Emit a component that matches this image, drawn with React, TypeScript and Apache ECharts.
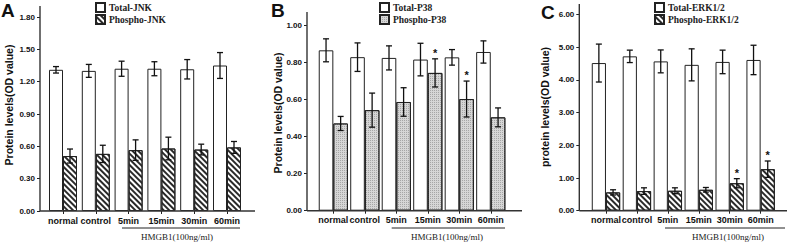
import React, { useEffect, useRef } from "react";
import * as echarts from "echarts";

const categories = ["normal", "control", "5min", "15min", "30min", "60min"];

const jnkTotal = [1.31, 1.30, 1.32, 1.32, 1.315, 1.35];
const jnkTotalErr = [0.03, 0.06, 0.07, 0.065, 0.09, 0.12];
const jnkPhospho = [0.51, 0.53, 0.565, 0.58, 0.57, 0.59];
const jnkPhosphoErr = [0.065, 0.08, 0.095, 0.105, 0.05, 0.055];

const p38Total = [0.866, 0.829, 0.825, 0.816, 0.828, 0.857];
const p38TotalErr = [0.062, 0.077, 0.065, 0.088, 0.042, 0.06];
const p38Phospho = [0.471, 0.543, 0.587, 0.744, 0.603, 0.504];
const p38PhosphoErr = [0.038, 0.092, 0.077, 0.076, 0.097, 0.051];
const p38Stars = [0, 0, 0, 1, 1, 0];

const erkTotal = [4.515, 4.72, 4.566, 4.46, 4.55, 4.61];
const erkTotalErr = [0.58, 0.19, 0.35, 0.49, 0.36, 0.45];
const erkPhospho = [0.56, 0.6, 0.61, 0.64, 0.84, 1.27];
const erkPhosphoErr = [0.08, 0.1, 0.09, 0.07, 0.14, 0.25];
const erkStars = [0, 0, 0, 0, 1, 1];

const noStars = [0, 0, 0, 0, 0, 0];

const panelLetters = ["A", "B", "C"];
const yNames = ["Protein levels(OD value)", "Protein levels(OD value)", "protein levels(OD value)"];
const legendTotal = ["Total-JNK", "Total-P38", "Total-ERK1/2"];
const legendPhospho = ["Phospho-JNK", "Phospho-P38", "Phospho-ERK1/2"];
const yMax = [1.8, 1.0, 6.0];
const yInterval = [0.3, 0.2, 1.0];
const groupLabel = "HMGB1(100ng/ml)";

const hatch = {
  symbol: "rect",
  symbolSize: 1,
  color: "#2a2a2a",
  dashArrayX: [1, 0],
  dashArrayY: [1.1, 1.3],
  rotation: Math.PI / 4,
};
const dots = {
  symbol: "rect",
  symbolSize: 1,
  color: "#a6a6a6",
  dashArrayX: [1, 1],
  dashArrayY: [1, 1],
  rotation: 0,
};

const layout = [
  { axisX: 40, left: 46.6, width: 196.8, top: 17, bottom: 211, axisTop: 6, axisRight: 255, barW: 14, legendLeft: 95, legendTop: 2, letterX: 1, letterY: 1, nameX: 8.5, nameY: 105, hmg: [122, 240], hmgC: 177, decal: hatch, pColor: "#ffffff" },
  { axisX: 307, left: 317.6, width: 188.9, top: 25.5, bottom: 210.7, axisTop: 12, axisRight: 522, barW: 14.6, legendLeft: 379, legendTop: 2, letterX: 271, letterY: 1, nameX: 278, nameY: 113, hmg: [391.7, 505], hmgC: 447, decal: dots, pColor: "#d6d6d6" },
  { axisX: 579.3, left: 590.5, width: 185.6, top: 14.5, bottom: 210.7, axisTop: 4, axisRight: 787, barW: 14.2, legendLeft: 654, legendTop: 2, letterX: 541, letterY: 3, nameX: 545, nameY: 107, hmg: [665, 785], hmgC: 728, decal: hatch, pColor: "#ffffff" },
];

const seriesData = [
  { total: jnkTotal, totalErr: jnkTotalErr, phos: jnkPhospho, phosErr: jnkPhosphoErr, stars: noStars },
  { total: p38Total, totalErr: p38TotalErr, phos: p38Phospho, phosErr: p38PhosphoErr, stars: p38Stars },
  { total: erkTotal, totalErr: erkTotalErr, phos: erkPhospho, phosErr: erkPhosphoErr, stars: erkStars },
];

function errSeries(k: number, values: number[], errs: number[], stars: number[], offset: number) {
  return {
    type: "custom",
    xAxisIndex: k,
    yAxisIndex: k,
    z: 10,
    clip: false,
    silent: true,
    encode: { x: 0, y: 1 },
    data: values.map((v, i) => [i, v, errs[i], stars[i]]),
    renderItem: (params: any, api: any) => {
      const i = api.value(0);
      const v = api.value(1);
      const e = api.value(2);
      const s = api.value(3);
      const c = api.coord([i, v]);
      const x = c[0] + offset;
      const yt = api.coord([i, v + e])[1];
      const yb = api.coord([i, v - e])[1];
      const st = { stroke: "#111", lineWidth: 1.3 };
      const children: any[] = [
        { type: "line", shape: { x1: x, y1: yt, x2: x, y2: yb }, style: st },
        { type: "line", shape: { x1: x - 3, y1: yt, x2: x + 3, y2: yt }, style: st },
        { type: "line", shape: { x1: x - 3, y1: yb, x2: x + 3, y2: yb }, style: st },
      ];
      if (s) {
        children.push({
          type: "text",
          x: x,
          y: yt - 6,
          style: { text: "*", textAlign: "center", textVerticalAlign: "middle", font: "bold 11px Arial", fill: "#111" },
        });
      }
      return { type: "group", children };
    },
  };
}

export default function App() {
  const ref = useRef<HTMLDivElement>(null);
  useEffect(() => {
    if (!ref.current) return;
    const chart = echarts.init(ref.current, null, { renderer: "svg" });
    const grid: any[] = [];
    const xAxis: any[] = [];
    const yAxis: any[] = [];
    const legend: any[] = [];
    const series: any[] = [];
    const graphic: any[] = [];
    layout.forEach((L, k) => {
      const D = seriesData[k];
      grid.push({ left: L.left, top: L.top, width: L.width, height: L.bottom - L.top, containLabel: false });
      xAxis.push({
        type: "category",
        gridIndex: k,
        data: categories,
        axisLine: { show: false },
        axisTick: { show: true, alignWithLabel: true, length: 3, lineStyle: { color: "#222", width: 1 } },
        axisLabel: { margin: 5, fontFamily: "Arial", fontWeight: "bold", fontSize: 9, color: "#111", interval: 0 },
        splitLine: { show: false },
      });
      yAxis.push({
        type: "value",
        gridIndex: k,
        min: 0,
        max: yMax[k],
        interval: yInterval[k],
        offset: L.left - L.axisX,
        axisLine: { show: false },
        axisTick: { show: true, length: 3, lineStyle: { color: "#222", width: 1 } },
        axisLabel: { margin: 5, fontFamily: "Arial", fontWeight: "bold", fontSize: 8, color: "#111", formatter: (v: number) => v.toFixed(2) },
        splitLine: { show: false },
      });
      legend.push({
        left: L.legendLeft,
        top: L.legendTop,
        orient: "vertical",
        itemWidth: 9,
        itemHeight: 9,
        itemGap: 1,
        icon: "rect",
        data: [legendTotal[k], legendPhospho[k]],
        textStyle: { fontFamily: "Liberation Serif", fontWeight: "bold", fontSize: 9.5, color: "#222", padding: [0, 0, 0, -1] },
        padding: 0,
      });
      series.push({
        type: "bar",
        name: legendTotal[k],
        xAxisIndex: k,
        yAxisIndex: k,
        data: D.total,
        barWidth: L.barW,
        barGap: "0%",
        itemStyle: { color: "#ffffff", borderColor: "#222", borderWidth: 1 },
      });
      series.push({
        type: "bar",
        name: legendPhospho[k],
        xAxisIndex: k,
        yAxisIndex: k,
        data: D.phos,
        barWidth: L.barW,
        barGap: "0%",
        itemStyle: { color: L.pColor, borderColor: "#222", borderWidth: 1, decal: L.decal },
      });
      series.push(errSeries(k, D.total, D.totalErr, noStars, -L.barW / 2));
      series.push(errSeries(k, D.phos, D.phosErr, D.stars, L.barW / 2));

      graphic.push({ type: "line", shape: { x1: L.axisX, y1: L.axisTop, x2: L.axisX, y2: L.bottom }, style: { stroke: "#333", lineWidth: 1.4 }, z: 20 });
      graphic.push({ type: "line", shape: { x1: L.axisX, y1: L.bottom, x2: L.axisRight, y2: L.bottom }, style: { stroke: "#333", lineWidth: 1.4 }, z: 20 });
      graphic.push({ type: "text", x: L.letterX, y: L.letterY, style: { text: panelLetters[k], font: "bold 19px Arial", fill: "#111", textAlign: "left", textVerticalAlign: "top" } });
      graphic.push({ type: "text", x: L.nameX, y: L.nameY, rotation: Math.PI / 2, style: { text: yNames[k], font: "bold 10.5px Arial", fill: "#111", textAlign: "center", textVerticalAlign: "middle" } });
      graphic.push({ type: "line", shape: { x1: L.hmg[0], y1: 228, x2: L.hmg[1], y2: 228 }, style: { stroke: "#222", lineWidth: 1 } });
      graphic.push({ type: "text", x: L.hmgC, y: 237, style: { text: groupLabel, font: "9px 'Liberation Serif'", fill: "#222", textAlign: "center", textVerticalAlign: "middle" } });
    });
    chart.setOption({
      animation: false,
      backgroundColor: "#ffffff",
      grid,
      xAxis,
      yAxis,
      legend,
      series,
      graphic,
    });
    return () => chart.dispose();
  }, []);
  return <div ref={ref} style={{ width: 798, height: 242, position: "absolute", left: 0, top: 0 }} />;
}
